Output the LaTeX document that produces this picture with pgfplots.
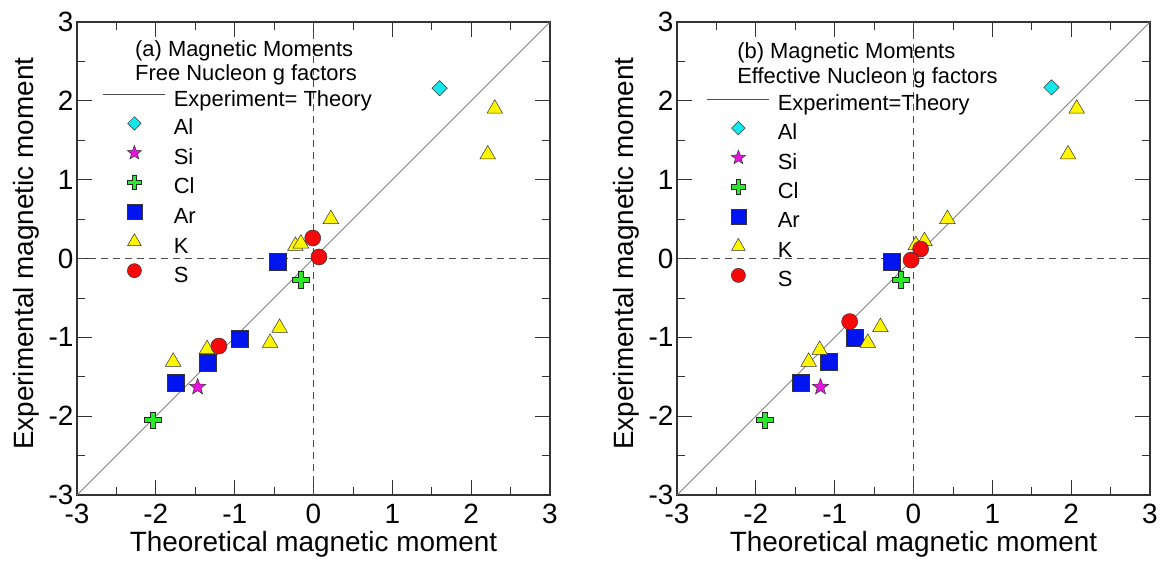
\documentclass[border=0pt]{standalone}
\usepackage{fontspec}
\setmainfont{Liberation Sans}
\usepackage{pgfplots}
\pgfplotsset{compat=1.18}

\definecolor{alcol}{RGB}{20,230,235}
\definecolor{sicol}{RGB}{230,20,220}
\definecolor{clcol}{RGB}{40,235,40}
\definecolor{arcol}{RGB}{0,20,240}
\definecolor{kcol}{RGB}{255,245,0}
\definecolor{scol}{RGB}{245,10,10}

% filled plus with outline
\pgfdeclareplotmark{fatplus}{%
  \pgfpathmoveto{\pgfqpoint{0.3\pgfplotmarksize}{\pgfplotmarksize}}%
  \pgfpathlineto{\pgfqpoint{0.3\pgfplotmarksize}{0.3\pgfplotmarksize}}%
  \pgfpathlineto{\pgfqpoint{\pgfplotmarksize}{0.3\pgfplotmarksize}}%
  \pgfpathlineto{\pgfqpoint{\pgfplotmarksize}{-0.3\pgfplotmarksize}}%
  \pgfpathlineto{\pgfqpoint{0.3\pgfplotmarksize}{-0.3\pgfplotmarksize}}%
  \pgfpathlineto{\pgfqpoint{0.3\pgfplotmarksize}{-\pgfplotmarksize}}%
  \pgfpathlineto{\pgfqpoint{-0.3\pgfplotmarksize}{-\pgfplotmarksize}}%
  \pgfpathlineto{\pgfqpoint{-0.3\pgfplotmarksize}{-0.3\pgfplotmarksize}}%
  \pgfpathlineto{\pgfqpoint{-\pgfplotmarksize}{-0.3\pgfplotmarksize}}%
  \pgfpathlineto{\pgfqpoint{-\pgfplotmarksize}{0.3\pgfplotmarksize}}%
  \pgfpathlineto{\pgfqpoint{-0.3\pgfplotmarksize}{0.3\pgfplotmarksize}}%
  \pgfpathlineto{\pgfqpoint{-0.3\pgfplotmarksize}{\pgfplotmarksize}}%
  \pgfpathclose\pgfusepathqfillstroke}

% filled five-point star
\pgfdeclareplotmark{fstar}{%
  \pgfpathmoveto{\pgfpointpolar{90}{\pgfplotmarksize}}%
  \pgfpathlineto{\pgfpointpolar{126}{0.42\pgfplotmarksize}}%
  \pgfpathlineto{\pgfpointpolar{162}{\pgfplotmarksize}}%
  \pgfpathlineto{\pgfpointpolar{198}{0.42\pgfplotmarksize}}%
  \pgfpathlineto{\pgfpointpolar{234}{\pgfplotmarksize}}%
  \pgfpathlineto{\pgfpointpolar{270}{0.42\pgfplotmarksize}}%
  \pgfpathlineto{\pgfpointpolar{306}{\pgfplotmarksize}}%
  \pgfpathlineto{\pgfpointpolar{342}{0.42\pgfplotmarksize}}%
  \pgfpathlineto{\pgfpointpolar{18}{\pgfplotmarksize}}%
  \pgfpathlineto{\pgfpointpolar{54}{0.42\pgfplotmarksize}}%
  \pgfpathclose\pgfusepathqfillstroke}

\pgfplotsset{
  mk/.style={only marks,
    legend image code/.code={\draw[##1, every mark/.append style={scale=0.88}] plot coordinates {(31bp,6bp)};}},
  diag/.style={black!50, line width=0.8bp,
    legend image code/.code={\draw[black!70, line width=0.8bp] (0bp,6bp) -- (62bp,6bp);}},
  zero/.style={forget plot, black!70, line width=0.8bp, dash pattern=on 7bp off 5bp},
  sAl/.style={mk, mark=square*, mark size=5.4bp, mark options={rotate=45, fill=alcol, draw=black!80, line width=0.5bp}},
  sSi/.style={mk, mark=fstar, mark size=8.5bp, mark options={fill=sicol, draw=black!80, line width=0.5bp}},
  sCl/.style={mk, mark=fatplus, mark size=8.3bp, mark options={fill=clcol, draw=black!85, line width=0.6bp}},
  sAr/.style={mk, mark=square*, mark size=8.5bp, mark options={fill=arcol, draw=black!80, line width=0.5bp}},
  sK/.style={mk, mark=triangle*, mark size=9bp, mark options={fill=kcol, draw=black!80, line width=0.5bp}},
  sS/.style={mk, mark=*, mark size=8bp, mark options={fill=scol, draw=black!80, line width=0.5bp}},
  panel/.style={
    scale only axis, width=473bp, height=473bp,
    xmin=-3, xmax=3, ymin=-3, ymax=3,
    xtick={-3,-2,...,3}, ytick={-3,-2,...,3},
    minor xtick={-2.5,-1.5,...,2.5}, minor ytick={-2.5,-1.5,...,2.5},
    tick pos=both, tick align=inside,
    major tick length=15bp, minor tick length=8bp,
    every tick/.style={black!80, line width=0.8bp},
    axis line style={black!80, line width=1.1bp},
    /pgf/number format/assume math mode=true,
    tick label style={font=\fontsize{28}{30}\selectfont},
    xticklabel style={yshift=-6bp},
    xlabel={Theoretical magnetic moment},
    ylabel={Experimental magnetic moment},
    label style={font=\fontsize{28}{30}\selectfont},
    xlabel style={at={(axis description cs:0.5,-0.12)}, anchor=base},
    ylabel style={at={(axis description cs:-0.093,0.51)}, anchor=base},
    legend cell align=left,
    legend style={draw=none, fill=none, inner sep=0pt, outer sep=0pt,
      anchor=north west, font=\fontsize{22}{24}\selectfont,
      row sep=3.5bp, column sep=6bp,
      nodes={inner sep=2bp, text height=16bp, text depth=5bp}},
  },
}

\begin{document}
\begin{tikzpicture}
% (a) free nucleon g factors
\begin{axis}[panel, legend style={at={(0.055,0.86)}}]
\addplot[zero] coordinates {(0,-3) (0,3)};
\addplot[zero] coordinates {(-3,0) (3,0)};
\addplot[diag] coordinates {(-3,-3) (3,3)};
\addlegendentry{Experiment= Theory}
\addplot[sAl] coordinates {(1.60,2.16)};
\addlegendentry{Al}
\addplot[sSi] coordinates {(-1.47,-1.63)};
\addlegendentry{Si}
\addplot[sCl] coordinates {(-2.04,-2.05) (-0.16,-0.27)};
\addlegendentry{Cl}
\addplot[sAr] coordinates {(-1.75,-1.58) (-1.34,-1.32) (-0.93,-1.02) (-0.45,-0.04)};
\addlegendentry{Ar}
\addplot[sK] coordinates {(2.30,1.90) (2.21,1.32) (0.22,0.50) (-0.23,0.16) (-0.16,0.19)
  (-0.43,-0.88) (-0.55,-1.07) (-1.35,-1.15) (-1.78,-1.31)};
\addlegendentry{K}
\addplot[sS] coordinates {(-1.20,-1.11) (-0.01,0.26) (0.07,0.02)};
\addlegendentry{S}
\node[anchor=base west, inner sep=0pt, font=\fontsize{22}{24}\selectfont]
  at (rel axis cs:0.1226,0.928) {(a) Magnetic Moments};
\node[anchor=base west, inner sep=0pt, font=\fontsize{22}{24}\selectfont]
  at (rel axis cs:0.1226,0.877) {Free Nucleon g factors};
\end{axis}

% (b) effective nucleon g factors
\begin{axis}[panel, at={(600bp,0bp)}, legend style={at={(0.0634,0.85)}}]
\addplot[zero] coordinates {(0,-3) (0,3)};
\addplot[zero] coordinates {(-3,0) (3,0)};
\addplot[diag] coordinates {(-3,-3) (3,3)};
\addlegendentry{Experiment=Theory}
\addplot[sAl] coordinates {(1.75,2.17)};
\addlegendentry{Al}
\addplot[sSi] coordinates {(-1.18,-1.63)};
\addlegendentry{Si}
\addplot[sCl] coordinates {(-1.89,-2.05) (-0.16,-0.27)};
\addlegendentry{Cl}
\addplot[sAr] coordinates {(-1.43,-1.57) (-1.07,-1.31) (-0.75,-1.01) (-0.27,-0.04)};
\addlegendentry{Ar}
\addplot[sK] coordinates {(2.07,1.90) (1.96,1.32) (0.43,0.50) (0.14,0.22) (0.03,0.17)
  (-0.42,-0.87) (-0.58,-1.07) (-1.19,-1.16) (-1.33,-1.31)};
\addlegendentry{K}
\addplot[sS] coordinates {(-0.81,-0.80) (0.09,0.12) (-0.03,-0.02)};
\addlegendentry{S}
\node[anchor=base west, inner sep=0pt, font=\fontsize{22}{24}\selectfont]
  at (rel axis cs:0.127,0.922) {(b) Magnetic Moments};
\node[anchor=base west, inner sep=0pt, font=\fontsize{22}{24}\selectfont]
  at (rel axis cs:0.127,0.869) {Effective Nucleon g factors};
\end{axis}

\pgfresetboundingbox
\path[use as bounding box] (-77bp,-72bp) rectangle (1091bp,495bp);
\end{tikzpicture}
\end{document}
